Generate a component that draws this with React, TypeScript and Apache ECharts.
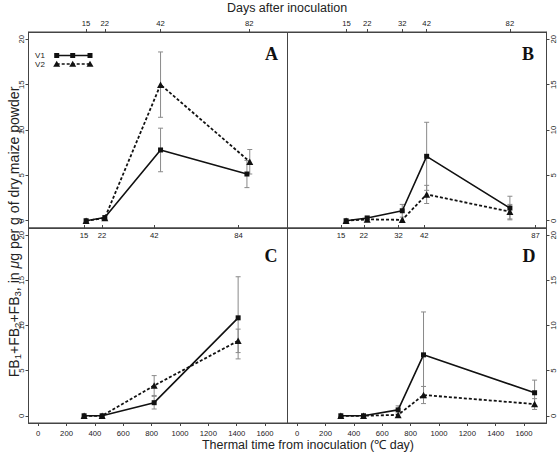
import React, { useEffect, useRef } from "react";
import * as echarts from "echarts";

const X_MIN = -68;
const X_MAX = 1758;
const Y_MIN = -0.8;
const Y_MAX = 20.8;
const THERMAL_TICKS = [0, 200, 400, 600, 800, 1000, 1200, 1400, 1600];
const Y_TICKS = [0, 5, 10, 15, 20];

// Panel A
const A_DAY_POS = [338, 470, 863, 1488];
const A_DAY_LABELS = ["15", "22", "42", "82"];
const A_X_V1 = [338, 470, 863, 1472];
const A_V1 = [0, 0.35, 7.8, 5.15];
const A_V1_ERR = [0, 0, 2.4, 1.5];
const A_X_V2 = [338, 470, 863, 1492];
const A_V2 = [0, 0.3, 15.0, 6.5];
const A_V2_ERR = [0, 0, 3.6, 1.35];

// Panel B
const B_DAY_POS = [348, 494, 741, 913, 1500];
const B_DAY_LABELS = ["15", "22", "32", "42", "82"];
const B_X = [345, 494, 741, 913, 1500];
const B_V1 = [0, 0.3, 1.1, 7.1, 1.4];
const B_V1_ERR = [0, 0.2, 0.7, 3.75, 1.3];
const B_V2 = [0, 0.15, 0.1, 2.9, 1.0];
const B_V2_ERR = [0, 0, 0, 1.0, 0.8];

// Panel C
const C_DAY_POS = [324, 451, 818, 1413];
const C_DAY_LABELS = ["15", "22", "42", "84"];
const C_X = [324, 451, 818, 1410];
const C_V1 = [0, 0, 1.45, 10.85];
const C_V1_ERR = [0, 0, 0.7, 4.55];
const C_V2 = [0, 0, 3.35, 8.3];
const C_V2_ERR = [0, 0, 1.1, 1.3];

// Panel D
const D_DAY_POS = [310, 470, 715, 896, 1681];
const D_DAY_LABELS = ["15", "22", "32", "42", "87"];
const D_X = [308, 468, 712, 891, 1674];
const D_V1 = [0, 0, 0.65, 6.75, 2.55];
const D_V1_ERR = [0, 0, 0.45, 4.75, 1.4];
const D_V2 = [0, 0, 0.1, 2.3, 1.3];
const D_V2_ERR = [0, 0, 0, 0.95, 0.6];

// Y axis title pieces: [text, kind]
const Y_TITLE_PIECES: [string, string][] = [
  ["FB", "n"],
  ["1", "s"],
  ["+FB", "n"],
  ["2", "s"],
  ["+FB", "n"],
  ["3", "s"],
  [", in ", "n"],
  ["μ", "i"],
  ["g per g of dry maize powder", "n"],
];

const FONT = "Liberation Sans, Arial, sans-serif";
const AXIS_COLOR = "#444";
const TEXT_COLOR = "#222";
const LBL = 7.7;

function dayFormatter(pos: number[], labels: string[]) {
  return (v: number) => {
    let best = 0;
    let d = Infinity;
    pos.forEach((p, i) => {
      if (Math.abs(p - v) < d) {
        d = Math.abs(p - v);
        best = i;
      }
    });
    return labels[best];
  };
}

function xAxis(gridIndex: number, position: string, values: number[], formatter: any, inside: boolean, margin: number) {
  return {
    type: "value",
    gridIndex,
    position,
    min: X_MIN,
    max: X_MAX,
    axisLine: { show: true, onZero: false, lineStyle: { color: AXIS_COLOR, width: 1 } },
    splitLine: { show: false },
    axisTick: { show: true, inside, length: 3, customValues: values, lineStyle: { color: AXIS_COLOR } },
    axisLabel: {
      customValues: values,
      formatter,
      fontSize: LBL,
      fontFamily: FONT,
      color: TEXT_COLOR,
      margin,
    },
  };
}

function yAxis(gridIndex: number, position: string, margin: number) {
  return {
    type: "value",
    gridIndex,
    position,
    min: Y_MIN,
    max: Y_MAX,
    axisLine: { show: true, onZero: false, lineStyle: { color: AXIS_COLOR, width: 1 } },
    splitLine: { show: false },
    axisTick: { show: true, length: 3, customValues: Y_TICKS, lineStyle: { color: AXIS_COLOR } },
    axisLabel: {
      customValues: Y_TICKS,
      rotate: 90,
      fontSize: LBL,
      fontFamily: FONT,
      color: TEXT_COLOR,
      margin,
    },
  };
}

function lineSeries(xs: number[], ys: number[], xi: number, yi: number, v1: boolean) {
  return {
    type: "line",
    xAxisIndex: xi,
    yAxisIndex: yi,
    data: xs.map((x, i) => [x, ys[i]]),
    symbol: v1 ? "rect" : "triangle",
    symbolSize: v1 ? 5 : [7, 6.5],
    showAllSymbol: true,
    lineStyle: { color: "#111", width: v1 ? 1.6 : 1.8, type: v1 ? "solid" : [3, 2] },
    itemStyle: { color: "#111" },
    z: 4,
    silent: true,
  };
}

function errSeries(xs: number[], ys: number[], errs: number[], xi: number, yi: number) {
  const data: number[][] = [];
  xs.forEach((x, i) => {
    if (errs[i] > 0) data.push([x, ys[i] - errs[i], ys[i] + errs[i]]);
  });
  return {
    type: "custom",
    xAxisIndex: xi,
    yAxisIndex: yi,
    data,
    z: 2,
    silent: true,
    renderItem: (params: any, api: any) => {
      const x = api.value(0);
      const lo = api.coord([x, api.value(1)]);
      const hi = api.coord([x, api.value(2)]);
      const w = 2.5;
      const style = { stroke: "#8a8a8a", lineWidth: 1 };
      return {
        type: "group",
        children: [
          { type: "line", shape: { x1: lo[0], y1: lo[1], x2: hi[0], y2: hi[1] }, style },
          { type: "line", shape: { x1: hi[0] - w, y1: hi[1], x2: hi[0] + w, y2: hi[1] }, style },
          { type: "line", shape: { x1: lo[0] - w, y1: lo[1], x2: lo[0] + w, y2: lo[1] }, style },
        ],
      };
    },
  };
}

function legendGraphics() {
  const items: any[] = [];
  const xs = [56.7, 72.7, 90];
  const y1 = 55.5;
  const y2 = 64;
  items.push({ type: "text", x: 40, y: y1, style: { text: "V1", fontSize: 8, fontFamily: FONT, fill: TEXT_COLOR, align: "center", verticalAlign: "middle" } });
  items.push({ type: "text", x: 40, y: y2, style: { text: "V2", fontSize: 8, fontFamily: FONT, fill: TEXT_COLOR, align: "center", verticalAlign: "middle" } });
  items.push({ type: "line", shape: { x1: xs[0], y1: y1, x2: xs[2], y2: y1 }, style: { stroke: "#111", lineWidth: 1.4 } });
  items.push({ type: "line", shape: { x1: xs[0], y1: y2, x2: xs[2], y2: y2 }, style: { stroke: "#111", lineWidth: 1.4, lineDash: [3, 2] } });
  xs.forEach((x) => {
    items.push({ type: "rect", shape: { x: x - 2.5, y: y1 - 2.5, width: 5, height: 5 }, style: { fill: "#111" } });
    items.push({
      type: "polygon",
      shape: { points: [[x, y2 - 3.2], [x - 3.5, y2 + 2.8], [x + 3.5, y2 + 2.8]] },
      style: { fill: "#111" },
    });
  });
  return items;
}

function yTitleGroup() {
  const canvas = document.createElement("canvas");
  const ctx = canvas.getContext("2d") as CanvasRenderingContext2D;
  const base = 12;
  const subRatio = 0.68;
  const fontOf = (kind: string, size: number) =>
    `${kind === "i" ? "italic " : ""}${kind === "s" ? size * subRatio : size}px "Liberation Sans", Arial, sans-serif`;
  const measure = (size: number) =>
    Y_TITLE_PIECES.reduce((acc, [t, k]) => {
      ctx.font = fontOf(k, size);
      return acc + ctx.measureText(t).width;
    }, 0);
  const target = 291;
  const size = base * (target / measure(base));
  const total = measure(size);
  let cx = -total / 2;
  const children: any[] = [];
  Y_TITLE_PIECES.forEach(([t, k]) => {
    ctx.font = fontOf(k, size);
    const w = ctx.measureText(t).width;
    children.push({
      type: "text",
      x: cx,
      y: k === "s" ? size * 0.3 : 0,
      style: {
        text: t,
        fontSize: k === "s" ? size * subRatio : size,
        fontStyle: k === "i" ? "italic" : "normal",
        fontFamily: FONT,
        fill: TEXT_COLOR,
        align: "left",
        verticalAlign: "middle",
      },
    });
    cx += w;
  });
  return { type: "group", x: 13.5, y: 232, rotation: Math.PI / 2, children };
}

export default function App() {
  const ref = useRef<HTMLDivElement>(null);
  useEffect(() => {
    if (!ref.current) return;
    const chart = echarts.init(ref.current, undefined, { renderer: "svg" });
    const grids = [
      { left: 28.5, top: 32, width: 259, height: 196 },
      { left: 287.5, top: 32, width: 259, height: 196 },
      { left: 28.5, top: 228, width: 259, height: 195 },
      { left: 287.5, top: 228, width: 259, height: 195 },
    ].map((g) => ({ ...g, show: true, borderColor: AXIS_COLOR, borderWidth: 1, backgroundColor: "transparent" }));

    const option: any = {
      animation: false,
      backgroundColor: "#fff",
      grid: grids,
      xAxis: [
        xAxis(0, "bottom", C_DAY_POS, dayFormatter(C_DAY_POS, C_DAY_LABELS), true, 3),
        xAxis(0, "top", A_DAY_POS, dayFormatter(A_DAY_POS, A_DAY_LABELS), false, 5),
        xAxis(1, "bottom", D_DAY_POS, dayFormatter(D_DAY_POS, D_DAY_LABELS), true, 3),
        xAxis(1, "top", B_DAY_POS, dayFormatter(B_DAY_POS, B_DAY_LABELS), false, 5),
        xAxis(2, "bottom", THERMAL_TICKS, (v: number) => String(v), false, 6),
        xAxis(3, "bottom", THERMAL_TICKS, (v: number) => String(v), false, 6),
      ],
      yAxis: [yAxis(0, "left", 3), yAxis(1, "right", 3), yAxis(2, "left", 3), yAxis(3, "right", 3)],
      series: [
        errSeries(A_X_V1, A_V1, A_V1_ERR, 0, 0),
        errSeries(A_X_V2, A_V2, A_V2_ERR, 0, 0),
        lineSeries(A_X_V1, A_V1, 0, 0, true),
        lineSeries(A_X_V2, A_V2, 0, 0, false),
        errSeries(B_X, B_V1, B_V1_ERR, 2, 1),
        errSeries(B_X, B_V2, B_V2_ERR, 2, 1),
        lineSeries(B_X, B_V1, 2, 1, true),
        lineSeries(B_X, B_V2, 2, 1, false),
        errSeries(C_X, C_V1, C_V1_ERR, 4, 2),
        errSeries(C_X, C_V2, C_V2_ERR, 4, 2),
        lineSeries(C_X, C_V1, 4, 2, true),
        lineSeries(C_X, C_V2, 4, 2, false),
        errSeries(D_X, D_V1, D_V1_ERR, 5, 3),
        errSeries(D_X, D_V2, D_V2_ERR, 5, 3),
        lineSeries(D_X, D_V1, 5, 3, true),
        lineSeries(D_X, D_V2, 5, 3, false),
      ],
      graphic: [
        {
          type: "text",
          x: 287,
          y: 8,
          style: { text: "Days after inoculation", fontSize: 12.5, fontFamily: FONT, fill: TEXT_COLOR, align: "center", verticalAlign: "middle" },
        },
        {
          type: "text",
          x: 308,
          y: 445,
          style: { text: "Thermal time from inoculation (℃ day)", fontSize: 12.5, fontFamily: FONT, fill: TEXT_COLOR, align: "center", verticalAlign: "middle" },
        },
        yTitleGroup(),
        ...[
          ["A", 271.5, 54],
          ["B", 528, 54],
          ["C", 271, 256],
          ["D", 529, 256],
        ].map(([t, x, y]) => ({
          type: "text",
          x,
          y,
          style: { text: t, fontSize: 18, fontWeight: "bold", fontFamily: "Liberation Serif, Times New Roman, serif", fill: "#111", align: "center", verticalAlign: "middle" },
        })),
        ...legendGraphics(),
      ],
    };
    chart.setOption(option);
    return () => chart.dispose();
  }, []);
  return <div ref={ref} style={{ position: "absolute", left: 0, top: 0, width: 560, height: 457 }} />;
}
